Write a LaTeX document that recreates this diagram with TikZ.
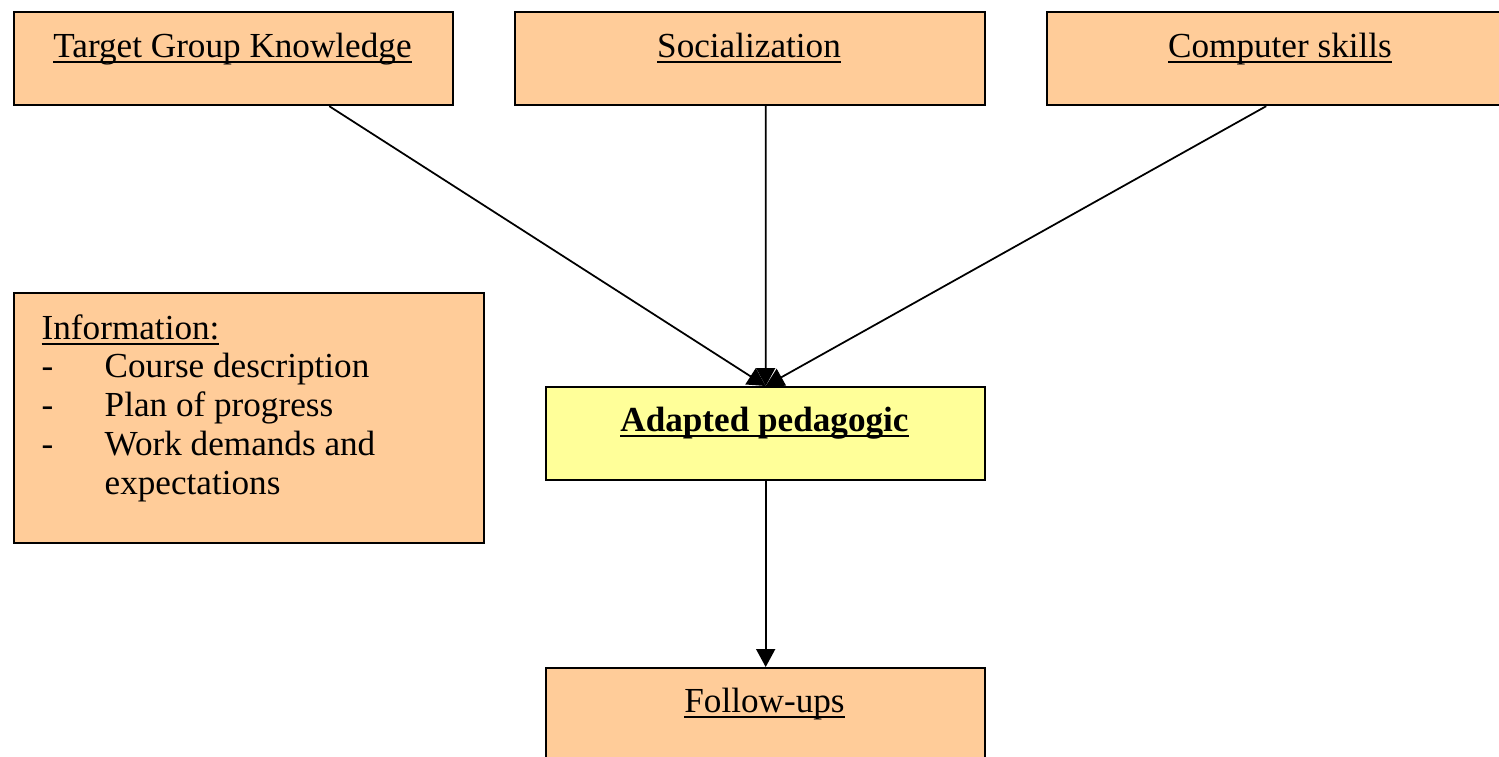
\documentclass[tikz,border=0pt]{standalone}
\usepackage{fontspec}
\setmainfont{Liberation Serif}
\usetikzlibrary{arrows.meta}
\definecolor{peche}{RGB}{255,204,153}
\definecolor{jaune}{RGB}{255,255,153}
\tikzset{trait/.style={line width=0.6pt}}
\newcommand{\souligne}[1]{\setbox0\hbox{#1}\rlap{\rule[-1.6pt]{\wd0}{0.6pt}}\box0}
\newcommand{\boite}[4]{\node[draw, trait, fill=#2, inner sep=0pt,
 	minimum width=#4, minimum height=0.93cm, anchor=north west] (#1) at (#3) {}}
\newcommand{\titre}[3]{\node[anchor=base, inner sep=0pt] (#1) at (#2) {\souligne{#3}}}
\newcommand{\fleche}[2]{\draw[line width=0.5pt, -{Triangle[length=1.8mm, width=1.9mm]}] (#1) -- (#2)}

\begin{document}
\begin{tikzpicture}[x=0.01cm, y=-0.01cm, font=\fontsize{10}{11}\selectfont]
	\useasboundingbox (0,0) rectangle (1499,756);
%The three boxes on top
	\boite{tgk}{peche}{13,11}{4.39cm};
	\boite{soc}{peche}{514,11}{4.70cm};
	\boite{comp}{peche}{1046,11}{4.68cm};
	\titre{tgkt}{232.5,57}{Target Group Knowledge};
	\titre{soct}{749,57}{Socialization};
	\titre{compt}{1280,57}{Computer skills};
%Information
	\node[draw, trait, fill=peche, inner sep=0pt, minimum width=4.70cm,
		minimum height=2.50cm, anchor=north west] (info) at (13,292) {};
	\node[anchor=base west, inner sep=0pt] (info0) at (41,339) {\souligne{Information:}};
	\node[anchor=base west, inner sep=0pt] (tiret1) at (41,377) {-};
	\node[anchor=base west, inner sep=0pt] (tiret2) at (41,416) {-};
	\node[anchor=base west, inner sep=0pt] (tiret3) at (41,455) {-};
	\node[anchor=base west, inner sep=0pt] (info1) at (104,377) {Course description};
	\node[anchor=base west, inner sep=0pt] (info2) at (104,416) {Plan of progress};
	\node[anchor=base west, inner sep=0pt] (info3) at (104,455) {Work demands and};
	\node[anchor=base west, inner sep=0pt] (info4) at (104,494) {expectations};
%The middle and the bottom
	\boite{adapt}{jaune}{545,386}{4.39cm};
	\boite{suivi}{peche}{545,667}{4.39cm};
	\titre{adaptt}{764.5,431}{\textbf{Adapted pedagogic}};
	\titre{suivit}{764.5,712}{Follow-ups};
%Arrows
	\fleche{[xshift=9.55mm]tgk.south}{adapt.north};
	\fleche{[xshift=1.55mm]soc.south}{adapt.north};
	\fleche{[xshift=-1.5mm]comp.south}{adapt.north};
	\fleche{adapt.south}{suivi.north};
\end{tikzpicture}
\end{document}
